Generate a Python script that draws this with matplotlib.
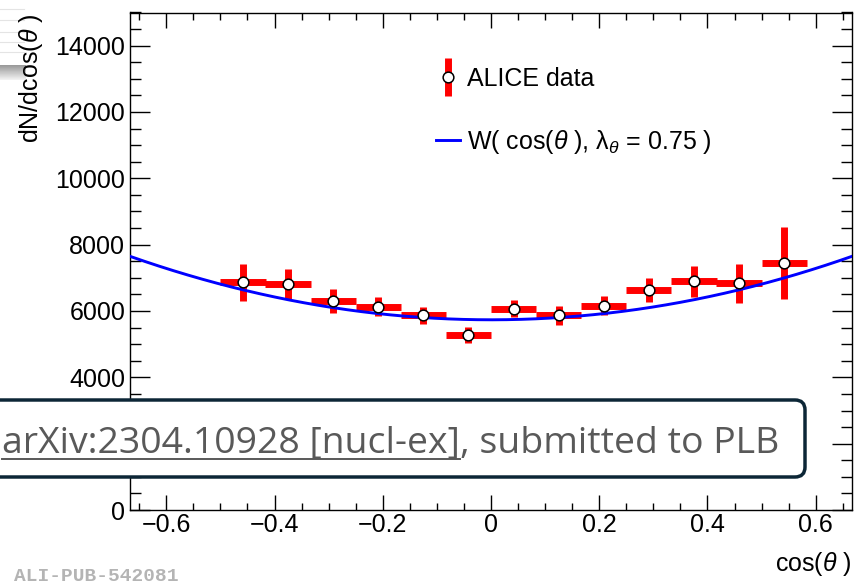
import numpy as np
import matplotlib.pyplot as plt
from matplotlib.lines import Line2D
from matplotlib.patches import FancyBboxPatch
from matplotlib.legend_handler import HandlerTuple
from matplotlib.ticker import MultipleLocator

plt.rcParams['font.family'] = ['Liberation Sans', 'DejaVu Sans']
plt.rcParams['mathtext.fontset'] = 'custom'
plt.rcParams['mathtext.rm'] = 'Liberation Sans'
plt.rcParams['mathtext.it'] = 'Liberation Sans:italic'

# cos(theta) bins (width 1/12) and measured yields
bin_centers = [-0.4583, -0.375, -0.2917, -0.2083, -0.125, -0.0417,
               0.0417, 0.125, 0.2083, 0.2917, 0.375, 0.4583, 0.5417]
bin_halfwidth = [1 / 24] * 13
counts = [6860, 6810, 6310, 6135, 5865, 5280, 6065, 5865, 6155, 6640, 6890, 6840, 7445]
count_err = [545, 445, 360, 290, 265, 240, 260, 275, 290, 360, 460, 590, 1085]

# angular distribution W(cos) = N (1 + lambda cos^2)
fit_norm = 5735
fit_lambda = 0.75

x_range = (-0.667, 0.667)
y_range = (0, 15000)
y_ticks = [0, 2000, 4000, 6000, 8000, 10000, 12000, 14000]
# the 2000 label sits under the reference box, so it is left blank
y_ticklabels = ['0', '', '4000', '6000', '8000', '10000', '12000', '14000']
x_ticks = [-0.6, -0.4, -0.2, 0, 0.2, 0.4, 0.6]
x_ticklabels = ['\u22120.6', '\u22120.4', '\u22120.2', '0', '0.2', '0.4', '0.6']

fig = plt.figure(figsize=(8.59, 5.85), dpi=100)
W, H = 859, 585
ax = fig.add_axes([130 / W, 75 / H, 722 / W, 497.5 / H])

ax.errorbar(bin_centers, counts, xerr=bin_halfwidth, yerr=count_err,
            fmt='none', ecolor='#ff0000', elinewidth=5, capsize=0, zorder=2)
cc = np.linspace(x_range[0], x_range[1], 300)
ax.plot(cc, fit_norm * (1 + fit_lambda * cc ** 2), color='#0000ff', lw=2.1, zorder=3)
ax.plot(bin_centers, counts, 'o', ms=7.7, mfc='white', mec='black', mew=1.1, zorder=4)

ax.set_xlim(*x_range)
ax.set_ylim(*y_range)
ax.xaxis.set_minor_locator(MultipleLocator(0.05))
ax.yaxis.set_minor_locator(MultipleLocator(500))
ax.set_yticks(y_ticks)
ax.set_yticklabels(y_ticklabels)
ax.set_xticks(x_ticks)
ax.set_xticklabels(x_ticklabels)

ax.tick_params(which='both', direction='in', top=True, right=True, width=1,
               labelsize=18, color='black')
ax.tick_params(axis='y', which='major', length=14.5, pad=3.5)
ax.tick_params(axis='y', which='minor', length=8)
ax.tick_params(axis='x', which='major', length=10.5, pad=2)
ax.tick_params(axis='x', which='minor', length=5)
for sp in ax.spines.values():
    sp.set_linewidth(1)

ax.set_ylabel(r'dN/dcos($\theta$ )', fontsize=18, loc='top')
ax.yaxis.set_label_coords(-85 / 722, 0.997)
ax.set_xlabel(r'cos($\theta$ )', fontsize=18, loc='right')
ax.xaxis.set_label_coords(1.0, -40 / 497.5)

h_data = (Line2D([], [], color='#ff0000', marker='|', ms=27, mew=5, lw=0),
          Line2D([], [], marker='o', ms=7.7, mfc='white', mec='black', mew=1.1, lw=0))
h_fit = Line2D([], [], color='#0000ff', lw=2.1)
ax.legend([h_data, h_fit],
          ['ALICE data', r'W( cos($\theta$ ), $\mathrm{\lambda}_{\theta}$ = 0.75 )'],
          handler_map={tuple: HandlerTuple(ndivide=1)},
          frameon=False, fontsize=18, loc='upper left',
          bbox_to_anchor=((436 - 130) / 722, (585 - 67 - 75) / 497.5),
          borderpad=0, borderaxespad=0, handlelength=0.95,
          handletextpad=0.3, labelspacing=1.48)

# reference box laid over the lower part of the plot
box = FancyBboxPatch((-30, 585 - 477), 835, 77, boxstyle='round,pad=0,rounding_size=10',
                     transform=None, facecolor='white', edgecolor='#0c2636',
                     linewidth=2.5, zorder=10)
fig.patches.append(box)
t1 = fig.text(2 / W, (585 - 453) / H, 'arXiv:2304.10928 [nucl-ex]', family='Open Sans',
              fontsize=26.9, color='#595959', va='baseline', ha='left', zorder=11)
fig.canvas.draw()
bb = t1.get_window_extent()
fig.text(bb.x1 / W, (585 - 453) / H, ', submitted to PLB', family='Open Sans',
         fontsize=26.9, color='#595959', va='baseline', ha='left', zorder=11)
fig.lines.append(Line2D([bb.x0, bb.x1], [585 - 459, 585 - 459], transform=None,
                        color='#595959', lw=1.4, zorder=11))

fig.text(14 / W, (585 - 581) / H, 'ALI-PUB-542081', family='Liberation Mono',
         fontweight='bold', fontsize=14, color='#b4b4b4', va='baseline', ha='left')

# bits of a neighbouring slide object at the top-left corner, under the label
grad = fig.add_axes([0, (585 - 80) / H, 26 / W, 15 / H])
grad.imshow(np.linspace(0.6, 0.95, 20).reshape(-1, 1), cmap='gray', vmin=0, vmax=1,
            aspect='auto', extent=(0, 1, 0, 1))
grad.axis('off')
grad.set_zorder(-1)
for yy in (9, 20, 32, 42, 52):
    fig.lines.append(Line2D([0, 24], [585 - yy, 585 - yy], transform=None,
                            color='#e4e4e4', lw=0.8, zorder=-2))

fig.savefig('out.png', dpi=100)
